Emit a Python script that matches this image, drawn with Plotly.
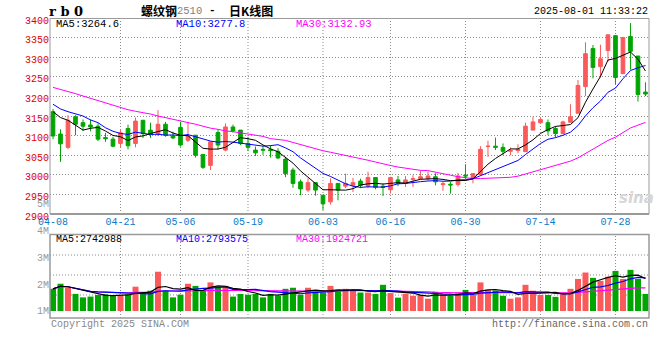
import plotly.graph_objects as go
import pandas as pd

# ---------------- data ----------------
dates = (["04-08","04-09","04-10","04-11","04-14","04-15","04-16","04-17","04-18","04-21",
          "04-22","04-23","04-24","04-25","04-28","04-29","04-30",
          "05-06","05-07","05-08","05-09","05-12","05-13","05-14","05-15","05-16","05-19",
          "05-20","05-21","05-22","05-23","05-26","05-27","05-28","05-29","05-30",
          "06-03","06-04","06-05","06-06","06-09","06-10","06-11","06-12","06-13","06-16",
          "06-17","06-18","06-19","06-20","06-23","06-24","06-25","06-26","06-27","06-30",
          "07-01","07-02","07-03","07-04","07-07","07-08","07-09","07-10","07-11","07-14",
          "07-15","07-16","07-17","07-18","07-21","07-22","07-23","07-24","07-25","07-28",
          "07-29","07-30","07-31","08-01"])

opens = [3161,3104,3070,3148,3133,3127,3124,3095,3091,3080,
         3118,3080,3139,3114,3104,3129,3099,3121,3088,3101,
         3052,3024,3108,3063,3122,3114,3080,3063,3065,3064,
         3060,3040,3012,2982,2961,2980,2948,2931,2978,2971,
         2973,2984,2971,2993,2971,2962,2987,2978,2988,2990,
         2990,2995,2975,2976,2975,2999,2991,3001,3072,3073,
         3070,3060,3062,3059,3114,3133,3133,3118,3105,3134,
         3157,3225,3322,3276,3317,3355,3258,3353,3303,3211]
highs = [3168,3116,3152,3152,3141,3141,3131,3107,3097,3114,
         3128,3146,3140,3133,3165,3135,3110,3135,3135,3101,
         3052,3084,3115,3131,3128,3114,3097,3072,3074,3075,
         3068,3046,3018,2988,2991,2980,2948,2991,2978,3003,
         2992,2990,3008,2993,2978,2995,2997,2997,2999,3011,
         3008,3004,2982,2982,3005,3027,3004,3073,3087,3095,
         3080,3070,3078,3133,3148,3146,3141,3124,3138,3180,
         3242,3338,3331,3332,3359,3356,3352,3387,3303,3236]
lows = [3091,3033,3065,3101,3112,3111,3086,3084,3070,3070,
        3065,3070,3094,3094,3099,3097,3091,3072,3084,3044,
        3015,3012,3065,3060,3108,3076,3061,3048,3051,3044,
        3040,2994,2967,2948,2956,2947,2910,2924,2935,2966,
        2956,2966,2966,2963,2946,2952,2971,2969,2969,2988,
        2986,2973,2959,2952,2970,2989,2978,2999,3046,3063,
        3050,3050,3055,3059,3114,3131,3101,3095,3105,3134,
        3157,3201,3246,3248,3289,3231,3258,3268,3187,3201]
closes = [3099,3079,3139,3129,3124,3122,3091,3092,3073,3107,
          3074,3137,3105,3104,3129,3101,3094,3076,3099,3050,
          3019,3084,3076,3122,3112,3080,3070,3056,3063,3062,
          3043,3003,2978,2964,2980,2961,2926,2978,2961,2978,
          2980,2973,2993,2968,2968,2993,2978,2987,2990,2995,
          2997,2982,2977,2974,2997,2997,3003,3065,3073,3070,
          3060,3062,3065,3124,3135,3141,3112,3105,3135,3148,
          3228,3309,3274,3296,3357,3248,3350,3315,3205,3206]

# volume, in millions
volumes_m = [1.82,2.01,1.86,1.63,1.50,1.53,1.59,1.62,1.58,1.56,
             1.60,1.90,1.67,1.75,2.46,1.75,1.50,1.60,2.01,1.93,
             1.76,2.06,1.90,1.93,1.53,1.63,1.60,1.63,1.50,1.63,
             1.56,1.82,1.86,1.60,1.86,1.72,1.68,1.93,1.72,1.82,
             1.76,1.68,1.68,1.63,1.97,1.66,1.49,1.63,1.56,1.59,
             1.45,1.71,1.60,1.56,1.68,1.78,1.59,2.06,1.78,1.76,
             1.56,1.45,1.50,1.97,1.75,1.59,1.59,1.52,1.68,1.82,
             2.19,2.43,2.23,2.12,2.27,2.49,2.19,2.53,2.19,1.63]

# moving-average values visible at the start of the window (history before 04-08)
ma5_head = [3161, 3146, 3139, 3127]
ma10_head = [3180, 3168, 3161, 3156, 3150, 3140, 3133, 3120, 3111]
ma30_head = [3223, 3218, 3213, 3207, 3201, 3195, 3189, 3184, 3179, 3172,
             3166, 3162, 3159, 3155, 3150, 3146, 3142, 3138, 3134, 3129,
             3124, 3119, 3116, 3112, 3110, 3107, 3104, 3101, 3098]

tick_dates = ["04-08", "04-21", "05-06", "05-19", "06-03", "06-16", "06-30", "07-14", "07-28"]
price_ticks = [2900, 2950, 3000, 3050, 3100, 3150, 3200, 3250, 3300, 3350, 3400]
vol_ticks = [1e6, 2e6, 3e6, 4e6, 5e6]
price_ma_labels = ["MA5:3264.6", "MA10:3277.8", "MA30:3132.93"]
vol_ma_labels = ["MA5:2742988", "MA10:2793575", "MA30:1924721"]
title_code = "r b 0"
title_name = "螺纹钢"
title_contract = "2510"
title_kind = "日K线图"
timestamp = "2025-08-01 11:33:22"
copyright_text = "Copyright 2025 SINA.COM"
url_text = "http://finance.sina.com.cn"

# ---------------- derived ----------------
c = pd.Series(closes, dtype=float)
ma5 = c.rolling(5).mean()
ma5.iloc[:len(ma5_head)] = ma5_head
ma10 = c.rolling(10).mean()
ma10.iloc[:len(ma10_head)] = ma10_head
ma30 = c.rolling(30).mean()
ma30.iloc[:len(ma30_head)] = ma30_head

vol = pd.Series([v * 1e6 for v in volumes_m])
vma5 = vol.rolling(5, min_periods=1).mean()
vma10 = vol.rolling(10, min_periods=1).mean()
vma30 = vol.rolling(30, min_periods=1).mean()

RED = "#fa5a5a"
GREEN = "#00a600"
vol_colors = [RED if cl >= op else GREEN for op, cl in zip(opens, closes)]

H = 360.0
L, R = 50, 649


def py(px):
    return 1 - px / H


def pxx(px):
    return (px - L) / (R - L)


MONO = "Liberation Mono, DejaVu Sans Mono, monospace"
GRID = "#8c8c8c"
BORDER = "#9a9a9a"

fig = go.Figure()

fig.add_trace(go.Candlestick(
    x=dates, open=opens, high=highs, low=lows, close=closes,
    increasing=dict(line=dict(color=RED, width=1), fillcolor=RED),
    decreasing=dict(line=dict(color=GREEN, width=1), fillcolor=GREEN),
    whiskerwidth=0, hoverinfo="skip", showlegend=False,
    xaxis="x", yaxis="y"))

for s, col in [(ma30, "#ff00ff"), (ma10, "#0000ff"), (ma5, "#000000")]:
    fig.add_trace(go.Scatter(x=dates, y=s, mode="lines",
                             line=dict(color=col, width=1),
                             hoverinfo="skip", showlegend=False,
                             xaxis="x", yaxis="y"))

fig.add_trace(go.Bar(x=dates, y=vol, marker=dict(color=vol_colors, line=dict(width=0)),
                     width=0.8, hoverinfo="skip", showlegend=False,
                     xaxis="x2", yaxis="y2"))
for s, col in [(vma30, "#ff00ff"), (vma10, "#0000ff"), (vma5, "#000000")]:
    fig.add_trace(go.Scatter(x=dates, y=s, mode="lines",
                             line=dict(color=col, width=1.2),
                             hoverinfo="skip", showlegend=False,
                             xaxis="x2", yaxis="y2"))

xr = [-0.4, len(dates) - 0.53]

shapes = []
# vertical grid lines (skip first: coincides with the left border)
for d in tick_dates[1:]:
    shapes.append(dict(type="line", xref="x", yref="paper", x0=d, x1=d,
                       y0=py(214), y1=py(18),
                       line=dict(color=GRID, width=1, dash="1px,2px"), layer="below"))
    shapes.append(dict(type="line", xref="x2", yref="paper", x0=d, x1=d,
                       y0=py(318), y1=py(234.5),
                       line=dict(color=GRID, width=1, dash="1px,2px"), layer="below"))
# volume panel horizontal grid lines
for yy in (255, 275, 295):
    shapes.append(dict(type="line", xref="paper", yref="paper", x0=0, x1=1,
                       y0=py(yy), y1=py(yy),
                       line=dict(color=GRID, width=1, dash="1px,2px"), layer="below"))
# borders
shapes.append(dict(type="rect", xref="paper", yref="paper", x0=0, x1=1,
                   y0=py(214), y1=py(18.5), line=dict(color=BORDER, width=1)))
shapes.append(dict(type="line", xref="paper", yref="paper", x0=0, x1=1,
                   y0=py(214), y1=py(214), line=dict(color=BORDER, width=2)))
shapes.append(dict(type="rect", xref="paper", yref="paper", x0=0, x1=1,
                   y0=py(318), y1=py(234.5), line=dict(color=BORDER, width=1.5)))

ann = []


def add_text(text, xpx, ypx, color="#000", size=10, family=MONO, xanchor="left"):
    ann.append(dict(text=text, x=pxx(xpx), y=py(ypx), xref="paper", yref="paper",
                    xanchor=xanchor, yanchor="middle", showarrow=False,
                    font=dict(color=color, size=size, family=family)))


add_text("<b>" + title_code + "</b>", 47, 11, size=13, family="DejaVu Serif")
add_text("<b>" + title_name + "</b>", 139, 10, size=12, family="Noto Sans CJK SC")
add_text(title_contract, 175, 11, color="#808080", size=10.5)
add_text("<b>-</b>", 207, 10, size=11, family=MONO)
add_text("<b>" + title_kind + "</b>", 227, 10, size=12, family="Noto Sans CJK SC")
add_text(timestamp, 650, 12, size=10, xanchor="right")

for txt, xp, col in zip(price_ma_labels, (54, 174, 294), ("#000000", "#0000ff", "#ff00ff")):
    add_text(txt, xp, 24, color=col, size=10.5)
for txt, xp, col in zip(vol_ma_labels, (54, 174, 294), ("#000000", "#0000ff", "#ff00ff")):
    add_text(txt, xp, 239, color=col, size=10)

add_text(copyright_text, 49, 324, color="#888888", size=10)
add_text(url_text, 650, 324, color="#666666", size=10, xanchor="right")
add_text("<b><i>sina</i></b>", 636, 198, color="#d6d6d6", size=15,
         family="DejaVu Sans", xanchor="center")

fig.update_layout(
    template="none",
    width=660, height=360, autosize=False,
    margin=dict(l=L, r=660 - R, t=0, b=0, pad=0, autoexpand=False),
    paper_bgcolor="white", plot_bgcolor="rgba(0,0,0,0)",
    showlegend=False, hovermode=False, boxgap=0.3, bargap=0.2,
    shapes=shapes, annotations=ann,
    xaxis=dict(type="category", categoryorder="array", categoryarray=dates,
               range=xr, domain=[0, 1], anchor="y", automargin=False,
               tickmode="array", tickvals=tick_dates, ticktext=tick_dates,
               showgrid=False, zeroline=False, showline=False, ticks="",
               ticklabelstandoff=0,
               tickfont=dict(color="#0a7bc8", size=10, family=MONO),
               rangeslider=dict(visible=False), fixedrange=True),
    yaxis=dict(domain=[py(214), py(18)], range=[2900, 3400], anchor="x",
               automargin=False, tickmode="array", tickvals=price_ticks,
               showgrid=True, gridcolor=GRID, gridwidth=1, griddash="1px,2px",
               zeroline=False, showline=False, ticks="",
               tickfont=dict(color="#e00000", size=10, family=MONO),
               ticklabelshift=2, fixedrange=True),
    xaxis2=dict(type="category", categoryorder="array", categoryarray=dates,
                range=xr, domain=[0, 1], anchor="y2", automargin=False,
                showticklabels=False, showgrid=False, zeroline=False,
                showline=False, ticks="", fixedrange=True),
    yaxis2=dict(domain=[py(311), py(202.5)], range=[0.99e6, 5.05e6], anchor="x2",
                automargin=False, tickmode="array", tickvals=vol_ticks, tickformat="~s",
                showgrid=False, zeroline=False, showline=False, ticks="",
                tickfont=dict(color="#999999", size=10, family=MONO),
                fixedrange=True),
)

fig.write_html("out.html", config={"staticPlot": True, "responsive": False},
               post_script="document.body.style.margin='0px';")
